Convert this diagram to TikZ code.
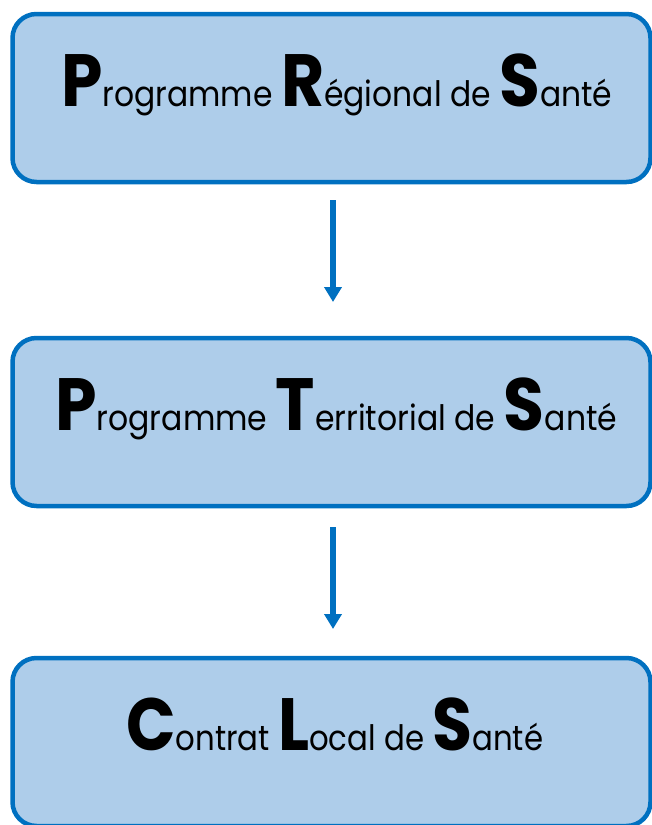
\documentclass[tikz,border=0pt]{standalone}
\usepackage{fontspec}
\setmainfont{Poppins}
\usetikzlibrary{arrows.meta}
\definecolor{bord}{HTML}{0070C0}
\definecolor{boxfill}{HTML}{AECDEA}
\newcommand{\Cap}[1]{{\fontsize{74}{74}\selectfont\bfseries #1}}
\newcommand{\Low}[1]{{\fontsize{35}{35}\selectfont #1}}
\tikzset{
  box/.style={draw=bord, fill=boxfill, line width=4.5pt, rounded corners=24pt,
    minimum width=638pt, minimum height=168pt, inner sep=0pt},
  lbl/.style={anchor=base west, inner sep=0pt, text=black},
  arr/.style={draw=bord, line width=5.5pt, -{Triangle[width=17pt,length=15pt]}}
}
\begin{document}
\begin{tikzpicture}[x=1pt,y=-1pt]
\useasboundingbox (0,0) rectangle (652,825);
\begin{scope}
\clip (0,0) rectangle (652,825);
\node[box] (b1) at (331.5,98) {};
\node[box] (b2) at (331.5,422) {};
\node[box] (b3) at (331.5,742) {};
\end{scope}
\node[lbl] (t1) at (61,106) {\resizebox{551pt}{\height}{\Cap{P}\Low{rogramme }\Cap{R}\Low{égional de }\Cap{S}\Low{anté}}};
\node[lbl] (t2) at (55,430) {\resizebox{562pt}{\height}{\Cap{P}\Low{rogramme }\Cap{T}\Low{erritorial de }\Cap{S}\Low{anté}}};
\node[lbl] (t3) at (126,750) {\resizebox{417pt}{\height}{\Cap{C}\Low{ontrat }\Cap{L}\Low{ocal de }\Cap{S}\Low{anté}}};
\coordinate (a1s) at (333,200);
\coordinate (a1e) at (333,302);
\coordinate (a2s) at (333,527);
\coordinate (a2e) at (333,629);
\draw[arr] (a1s) -- (a1e);
\draw[arr] (a2s) -- (a2e);
\end{tikzpicture}
\end{document}
